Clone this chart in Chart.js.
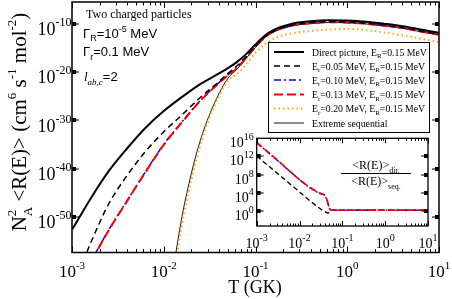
<!DOCTYPE html>
<html>
<head>
<meta charset="utf-8">
<script src="https://cdn.jsdelivr.net/npm/chart.js@4/dist/chart.umd.min.js"></script>
<style>
  body { margin: 0; background: #fff; }
  #wrap { position: relative; width: 452px; height: 299px; }
  canvas { position: absolute; left: 0; top: 0; }
</style>
</head>
<body>
<div id="wrap">
  <canvas id="mainChart" width="452" height="299"></canvas>
  <canvas id="insetChart" width="452" height="299"></canvas>
</div>
<script>
// ---- main plot: T (GK) and log10 of N_A^2 <R(E)> ----
const tempA = [0.001, 0.0016, 0.0025, 0.004, 0.0063, 0.01, 0.016, 0.025, 0.04, 0.05, 0.063, 0.079,
  0.1, 0.126, 0.158, 0.25, 0.4, 0.63, 1, 1.6, 2.5, 4, 6.3, 10];
const directExp = [-52.7, -46.2, -40.6, -35.8, -31.6, -28.1, -25.1, -22.5, -20.3, -19.2, -17.9, -16.3,
  -14.3, -12.5, -11.3, -10.0, -9.5, -9.3, -9.35, -9.6, -10.0, -10.5, -11.2, -11.9];
const er005Exp = [-65, -55.4, -47.4, -41.4, -36.5, -32.4, -28.8, -25.3, -22.0, -20.3, -18.7, -16.8,
  -14.6, -12.75, -11.55, -10.3, -9.8, -9.6, -9.65, -9.9, -10.3, -10.8, -11.5, -12.2];
const er010Exp = [-66, -59.3, -52.8, -46.6, -40.7, -35.0, -30.2, -25.9, -22.2, -20.6, -19.1, -17.0,
  -14.8, -12.85, -11.6, -10.35, -9.85, -9.7, -9.75, -9.95, -10.4, -10.85, -11.55, -12.25];
const er013Exp = [-66, -59.4, -52.9, -46.7, -40.8, -35.1, -30.3, -26.0, -22.3, -20.7, -19.2, -17.1,
  -14.8, -12.85, -11.65, -10.4, -9.9, -9.7, -9.75, -10.0, -10.4, -10.9, -11.6, -12.3];

const tempB = [0.01, 0.0126, 0.0158, 0.02, 0.025, 0.0316, 0.04, 0.05, 0.063, 0.079, 0.1, 0.126, 0.158,
  0.25, 0.4, 0.63, 1, 1.6, 2.5, 4, 6.3, 10];
const er020Exp = [-78, -63.5, -51.7, -42.4, -35.2, -29.4, -25.0, -21.8, -20.4, -18.5, -16.0, -14.3, -13.1,
  -12.0, -11.5, -11.2, -11.1, -11.3, -11.8, -12.4, -13.1, -13.8];
const seqExp = [-76, -61.5, -50.0, -41.0, -34.2, -28.8, -24.5, -21.3, -19.4, -17.2, -14.9, -12.9, -11.7,
  -10.45, -9.95, -9.75, -9.8, -10.05, -10.45, -10.95, -11.65, -12.35];

// ---- inset: log10 of <R(E)>dir / <R(E)>seq ----
const ratioTempBlack = [0.001, 0.00316, 0.01, 0.0158, 0.0251, 0.0316, 0.0398, 0.0468, 0.0537, 0.0631, 0.1, 1, 10];
const ratio005Exp = [12.1, 8.15, 4.2, 2.6, 1.1, 0.4, -0.2, -0.45, 0.1, 0.2, 0.2, 0.2, 0.2];
const ratioTempColor = [0.001, 0.00316, 0.01, 0.0158, 0.0251, 0.0316, 0.0398, 0.0447, 0.0501, 0.0537, 0.0631, 0.1, 1, 10];
const ratio010Exp = [15.0, 11.0, 6.9, 5.4, 4.2, 3.75, 3.3, 2.0, 0.6, 0.2, 0.2, 0.2, 0.2, 0.2];
const ratio013Exp = [15.1, 11.1, 6.9, 5.5, 4.3, 3.85, 3.4, 2.2, 0.6, 0.2, 0.2, 0.2, 0.2, 0.2];

// tick labels (powers of ten)
const mainXTicks = [-3, -2, -1, 0, 1];
const mainYTicks = [-10, -20, -30, -40, -50];
const insetXTicks = [-3, -2, -1, 0, 1];
const insetYTicks = [0, 4, 8, 12, 16];

const legendLabels = [
  'Direct picture, E_R=0.15 MeV',
  'E_r=0.05 MeV, E_R=0.15 MeV',
  'E_r=0.10 MeV, E_R=0.15 MeV',
  'E_r=0.13 MeV, E_R=0.15 MeV',
  'E_r=0.20 MeV, E_R=0.15 MeV',
  'Extreme sequential'
];

const SERIF = "'Liberation Serif', 'Times New Roman', serif";
const SANS = "'Liberation Sans', Arial, sans-serif";

function series(temps, exps) {
  return temps.map((t, i) => ({ x: t, y: Math.pow(10, exps[i]) }));
}

// tiny markup: _x / _{xx} subscript, ^x / ^{xx} superscript
function parseRich(str) {
  const out = [];
  let buf = '';
  let i = 0;
  const flush = () => { if (buf) { out.push({ text: buf, kind: 'norm' }); buf = ''; } };
  while (i < str.length) {
    const c = str[i];
    if ((c === '_' || c === '^') && i + 1 < str.length) {
      flush();
      let t;
      if (str[i + 1] === '{') {
        const j = str.indexOf('}', i);
        t = str.slice(i + 2, j);
        i = j + 1;
      } else {
        t = str[i + 1];
        i += 2;
      }
      out.push({ text: t, kind: c === '_' ? 'sub' : 'sup' });
    } else {
      buf += c;
      i++;
    }
  }
  flush();
  return out;
}

function drawRich(ctx, str, x, y, o) {
  const parts = parseRich(str);
  const small = o.small || 0.65;
  const fontFor = p => `${o.style || 'normal'} ${p.kind === 'norm' ? o.size : Math.round(o.size * small)}px ${o.family}`;
  const placed = [];
  let cx = 0;
  parts.forEach((p, k) => {
    ctx.font = fontFor(p);
    const w = ctx.measureText(p.text).width;
    const dy = p.kind === 'sub' ? o.size * (o.subDy || 0.3) : p.kind === 'sup' ? -o.size * (o.supDy || 0.42) : 0;
    const prev = parts[k - 1];
    if (p.kind === 'sup' && prev && prev.kind === 'sub') {
      const last = placed[placed.length - 1];
      placed.push({ p, x: last.x, dy, font: ctx.font, w });
      cx = last.x + Math.max(last.w, w);
    } else {
      placed.push({ p, x: cx, dy, font: ctx.font, w });
      cx += w;
    }
  });
  const start = o.align === 'center' ? x - cx / 2 : o.align === 'right' ? x - cx : x;
  ctx.textAlign = 'left';
  ctx.textBaseline = 'alphabetic';
  ctx.fillStyle = o.color || '#000';
  placed.forEach(q => {
    ctx.font = q.font;
    ctx.fillText(q.p.text, start + q.x, y + q.dy);
  });
  return cx;
}

function line(ctx, x1, y1, x2, y2) {
  ctx.beginPath();
  ctx.moveTo(x1, y1);
  ctx.lineTo(x2, y2);
  ctx.stroke();
}

// inward log ticks on bottom and top of a box
function drawXTicks(ctx, scale, a, exps, major, minor) {
  ctx.lineWidth = 1;
  exps.forEach((e, idx) => {
    const mults = idx === exps.length - 1 ? [1] : [1, 2, 3, 4, 5, 6, 7, 8, 9];
    mults.forEach(m => {
      const px = Math.round(scale.getPixelForValue(m * Math.pow(10, e))) + 0.5;
      const len = m === 1 ? major : minor;
      line(ctx, px, a.bottom, px, a.bottom - len);
      line(ctx, px, a.top, px, a.top + len);
    });
  });
}

// square-ish major ticks on left and right
function drawYMarks(ctx, scale, a, exps, skipTop) {
  exps.forEach(e => {
    const py = Math.round(scale.getPixelForValue(Math.pow(10, e)));
    if (skipTop && Math.abs(py - a.top) < 3) return;
    ctx.fillRect(a.left, py - 2, 4, 4);
    ctx.fillRect(a.right - 4, py - 2, 4, 4);
    ctx.fillRect(a.left, py - 0.5, 7, 1);
    ctx.fillRect(a.right - 7, py - 0.5, 7, 1);
  });
}

const mainDecor = {
  id: 'mainDecor',
  afterDraw(chart) {
    const { ctx, chartArea: a, scales: { x, y } } = chart;
    ctx.save();
    ctx.strokeStyle = '#000';
    ctx.fillStyle = '#000';

    drawXTicks(ctx, x, a, mainXTicks, 6, 3.5);
    drawYMarks(ctx, y, a, mainYTicks, false);

    ctx.lineWidth = 1.5;
    ctx.strokeRect(a.left, a.top, a.right - a.left, a.bottom - a.top);

    // tick labels
    mainXTicks.forEach(e => {
      drawRich(ctx, '10^{' + e + '}', x.getPixelForValue(Math.pow(10, e)), a.bottom + 24.5,
        { size: 17, family: SERIF, align: 'center', small: 0.64, supDy: 0.5 });
    });
    mainYTicks.forEach(e => {
      drawRich(ctx, '10^{' + e + '}', a.left - 0.5, y.getPixelForValue(Math.pow(10, e)) + 11.5,
        { size: 18, family: SERIF, align: 'right', small: 0.64, supDy: 0.5 });
    });

    // axis titles
    drawRich(ctx, 'T (GK)', 255, 293, { size: 18, family: SERIF, align: 'center' });
    ctx.save();
    ctx.translate(26, 122);
    ctx.rotate(-Math.PI / 2);
    drawRich(ctx, 'N_A^2 <R(E)> (cm^6 s^{-1} mol^{-2})', 0, 0,
      { size: 21, family: SERIF, align: 'center', small: 0.62, supDy: 0.48, subDy: 0.3 });
    ctx.restore();

    // annotations
    drawRich(ctx, 'Two charged particles', 86, 18, { size: 12, family: SERIF });
    drawRich(ctx, 'Γ_R=10^{-5} MeV', 83, 37.5, { size: 13, family: SANS, small: 0.7 });
    drawRich(ctx, 'Γ_r=0.1 MeV', 83, 56, { size: 13, family: SANS, small: 0.7 });
    const lw = drawRich(ctx, 'l_{ab,c}', 84, 81, { size: 13, family: SERIF, style: 'italic', small: 0.7 });
    drawRich(ctx, '=2', 84 + lw, 81, { size: 13, family: SANS });

    // legend
    const lx = 268.5, ly = 42.5, lwid = 161, lh = 90;
    ctx.fillStyle = '#fff';
    ctx.fillRect(lx, ly, lwid, lh);
    ctx.lineWidth = 1;
    ctx.strokeStyle = '#000';
    ctx.strokeRect(lx, ly, lwid, lh);
    const rows = [52, 66, 80, 94.5, 108.5, 123];
    chart.data.datasets.forEach((ds, i) => {
      const ry = rows[i];
      ctx.save();
      ctx.strokeStyle = ds.borderColor;
      ctx.lineWidth = ds.borderWidth;
      ctx.setLineDash(ds.borderDash || []);
      line(ctx, 274, ry, 304, ry);
      ctx.restore();
      drawRich(ctx, legendLabels[i], 312, ry + 3.5, { size: 9.8, family: SERIF, small: 0.72, subDy: 0.3 });
    });
    ctx.restore();
  }
};

new Chart(document.getElementById('mainChart'), {
  type: 'line',
  data: {
    datasets: [
      { label: legendLabels[0], data: series(tempA, directExp), borderColor: '#000000', borderWidth: 2, order: 0 },
      { label: legendLabels[1], data: series(tempA, er005Exp), borderColor: '#000000', borderWidth: 1.5, borderDash: [6, 4], order: 1 },
      { label: legendLabels[2], data: series(tempA, er010Exp), borderColor: '#0000ff', borderWidth: 1.5, borderDash: [7, 3, 2, 3], order: 3 },
      { label: legendLabels[3], data: series(tempA, er013Exp), borderColor: '#ff0000', borderWidth: 2, borderDash: [9, 4], order: 2 },
      { label: legendLabels[4], data: series(tempB, er020Exp), borderColor: '#ffa500', borderWidth: 2, borderDash: [1.5, 3], order: 4 },
      { label: legendLabels[5], data: series(tempB, seqExp), borderColor: '#000000', borderWidth: 0.9, order: 5 }
    ]
  },
  options: {
    responsive: false,
    animation: false,
    layout: { padding: { left: 72, top: 2, right: 13, bottom: 46.5 } },
    elements: { point: { radius: 0 }, line: { cubicInterpolationMode: 'monotone' } },
    plugins: { legend: { display: false }, tooltip: { enabled: false } },
    scales: {
      x: { type: 'logarithmic', min: 1e-3, max: 10, display: false },
      y: { type: 'logarithmic', min: Math.pow(10, -57.4), max: Math.pow(10, -5.5), display: false }
    }
  },
  plugins: [mainDecor]
});

const insetDecor = {
  id: 'insetDecor',
  beforeDatasetsDraw(chart) {
    const { ctx, chartArea: a } = chart;
    ctx.save();
    ctx.fillStyle = '#fff';
    ctx.fillRect(a.left, a.top, a.right - a.left, a.bottom - a.top);
    ctx.restore();
  },
  afterDraw(chart) {
    const { ctx, chartArea: a, scales: { x, y } } = chart;
    ctx.save();
    ctx.strokeStyle = '#000';
    ctx.fillStyle = '#000';
    drawXTicks(ctx, x, a, insetXTicks, 5, 2.5);
    drawYMarks(ctx, y, a, insetYTicks, true);
    ctx.lineWidth = 1.3;
    ctx.strokeRect(a.left, a.top, a.right - a.left, a.bottom - a.top);

    insetXTicks.forEach(e => {
      drawRich(ctx, '10^{' + e + '}', x.getPixelForValue(Math.pow(10, e)), a.bottom + 22,
        { size: 14, family: SERIF, align: 'center', small: 0.68, supDy: 0.5 });
    });
    insetYTicks.forEach(e => {
      drawRich(ctx, '10^{' + e + '}', a.left - 3, y.getPixelForValue(Math.pow(10, e)) + 9,
        { size: 14, family: SERIF, align: 'right', small: 0.68, supDy: 0.5 });
    });

    // ratio label
    drawRich(ctx, '<R(E)>_{dir.}', 376, 169, { size: 12, family: SERIF, align: 'center', small: 0.7, subDy: 0.3 });
    ctx.lineWidth = 1;
    line(ctx, 341, 173.5, 411, 173.5);
    drawRich(ctx, '<R(E)>_{seq.}', 376, 185, { size: 12, family: SERIF, align: 'center', small: 0.7, subDy: 0.3 });
    ctx.restore();
  }
};

new Chart(document.getElementById('insetChart'), {
  type: 'line',
  data: {
    datasets: [
      { data: series(ratioTempColor, ratio013Exp), borderColor: '#ff0000', borderWidth: 1.6, borderDash: [7, 3] },
      { data: series(ratioTempColor, ratio010Exp), borderColor: '#0000ff', borderWidth: 1.4, borderDash: [6, 2, 1.5, 2] },
      { data: series(ratioTempBlack, ratio005Exp), borderColor: '#000000', borderWidth: 1.3, borderDash: [5, 3] }
    ]
  },
  options: {
    responsive: false,
    animation: false,
    layout: { padding: { left: 256.7, top: 138.3, right: 24, bottom: 73 } },
    elements: { point: { radius: 0 }, line: { cubicInterpolationMode: 'monotone' } },
    plugins: { legend: { display: false }, tooltip: { enabled: false } },
    scales: {
      x: { type: 'logarithmic', min: 1e-3, max: 10, display: false },
      y: { type: 'logarithmic', min: Math.pow(10, -3.3), max: 1e16, display: false }
    }
  },
  plugins: [insetDecor]
});
</script>
</body>
</html>
